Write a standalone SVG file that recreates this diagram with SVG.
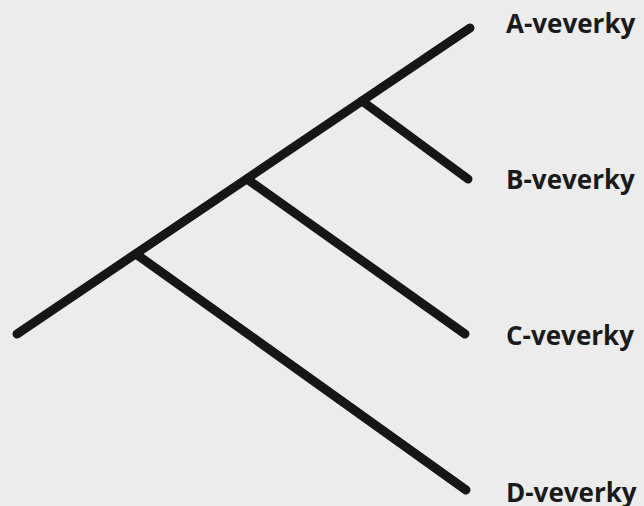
<svg xmlns="http://www.w3.org/2000/svg" width="644" height="506" viewBox="0 0 644 506">
<style>
.l{stroke:#161616;stroke-width:9;stroke-linecap:round;fill:none}
.t{font-family:"Open Sans","Noto Sans",sans-serif;font-weight:bold;font-size:26px;fill:#1a1a1a}
</style>
<rect width="644" height="506" fill="#ebeceb"/>
<g id="connectors">
<line class="l" x1="17" y1="334" x2="470" y2="28"/>
<line class="l" x1="362" y1="101" x2="468" y2="179"/>
<line class="l" x1="247" y1="179" x2="465" y2="334"/>
<line class="l" x1="136" y1="254" x2="466" y2="490"/>
</g>
<g id="A"><text class="t" x="506" y="33">A-veverky</text></g>
<g id="B"><text class="t" x="506" y="189">B-veverky</text></g>
<g id="C"><text class="t" x="506" y="345">C-veverky</text></g>
<g id="D"><text class="t" x="506" y="502">D-veverky</text></g>
</svg>
